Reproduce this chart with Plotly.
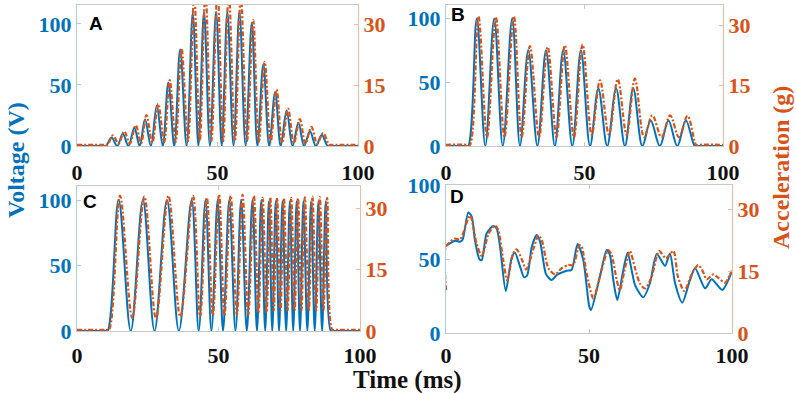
import plotly.graph_objects as go

# ---------------- data ----------------
# Panel A : amplitude-modulated burst
a_blue_peak_t = [12.3, 16.3, 20.4, 24.2, 28.4, 32.5, 36.7, 41.2, 45.2, 49.5, 53.5, 57.8, 62.2, 66.3, 70.5, 74.6, 78.8, 82.9, 87.1]
a_blue_peak_v = [7, 10, 15, 22, 33, 52, 79, 109, 110, 110, 110, 110, 101, 67, 44, 29, 19, 12, 9]
a_blue_trough_t = [10.3, 14.3, 18.3, 22.3, 26.3, 30.5, 34.6, 39.0, 43.2, 47.3, 51.5, 55.7, 60.0, 64.2, 68.4, 72.5, 76.7, 80.8, 85.0, 89.2]
a_blue_trough_v = [0] * 20
a_org_peak_t = [12.8, 16.8, 20.9, 24.7, 28.9, 33.0, 37.2, 41.7, 45.7, 50.0, 54.0, 58.3, 62.7, 66.8, 71.0, 75.1, 79.3, 83.4, 87.6]
a_org_peak_g = [2.6, 3.6, 5.1, 7.6, 10.4, 16.2, 24.0, 37, 38, 38, 38, 37, 31.0, 20.7, 13.9, 9.2, 6.6, 4.7, 3.2]
a_org_trough_t = [10.8, 14.8, 18.8, 22.8, 26.8, 31.0, 35.1, 39.5, 43.7, 47.8, 52.0, 56.2, 60.5, 64.7, 68.9, 73.0, 77.2, 81.3, 85.5, 89.7]
a_org_trough_g = [0.3, 0.6, 0.6, 0.7, 0.8, 0.9, 1.0, 1.2, 1.2, 1.2, 1.2, 1.2, 1.2, 1.0, 0.9, 0.8, 0.7, 0.6, 0.6, 0.3]

# Panel B : stepped amplitudes
b_blue_peak_t = [11.1, 17.4, 23.9, 29.7, 36.1, 42.3, 48.7, 55.0, 61.4, 67.6, 73.9, 80.3, 86.6]
b_blue_peak_v = [100, 100, 100, 75, 75, 75, 75, 45, 45, 45, 20, 20, 20]
b_blue_trough_t = [8.0, 14.2, 20.5, 26.7, 33.0, 39.3, 45.6, 52.0, 58.2, 64.6, 70.9, 77.2, 83.5, 89.8]
b_blue_trough_v = [0] * 14
b_org_peak_t = [11.7, 18.0, 24.5, 30.3, 36.7, 42.9, 49.3, 55.6, 62.0, 68.2, 74.5, 80.9, 87.2]
b_org_peak_g = [32.2, 32.0, 32.2, 24.8, 24.6, 25.0, 25.2, 16.3, 16.6, 16.7, 7.6, 7.6, 7.5]
b_org_trough_t = [8.6, 14.8, 21.1, 27.3, 33.6, 39.9, 46.2, 52.6, 58.8, 65.2, 71.5, 77.8, 84.1, 90.4]
b_org_trough_g = [0.2, 2.2, 2.2, 2.2, 2.2, 2.2, 2.2, 2.8, 2.8, 2.8, 2.2, 2.2, 2.2, 0.2]

# Panel C : chirp
c_blue_peak_t = [14.7, 23.3, 31.8, 40.5, 45.4, 49.7, 53.8, 58.0, 62.0, 65.1, 67.8, 70.2, 72.6, 75.2, 77.6, 80.0, 82.7, 85.3, 87.9]
c_blue_peak_v = [100, 100, 100, 100, 100, 100, 100, 100, 100, 100, 99, 99, 99, 99, 99, 99, 99, 99, 99]
c_blue_trough_t = [10.8, 19.0, 27.4, 36.0, 43.0, 47.5, 51.6, 56.0, 60.0, 63.6, 66.5, 69.0, 71.4, 73.9, 76.4, 78.8, 81.4, 84.0, 86.6, 89.7]
c_blue_trough_v = [0] * 20
c_org_peak_t = [15.2, 23.8, 32.3, 41.0, 45.9, 50.2, 54.3, 58.5, 62.5, 65.6, 68.3, 70.7, 73.1, 75.7, 78.1, 80.5, 83.2, 85.8, 88.4]
c_org_peak_g = [33.0, 32.8, 33.0, 33.0, 32.5, 33.3, 33.0, 33.3, 33.0, 32.5, 32.6, 32.5, 32.4, 32.5, 32.4, 32.6, 32.8, 32.7, 32.5]
c_org_trough_t = [11.3, 19.5, 27.9, 36.5, 43.5, 48.0, 52.1, 56.5, 60.5, 64.1, 67.0, 69.5, 71.9, 74.4, 76.9, 79.3, 81.9, 84.5, 87.1, 90.2]
c_org_trough_g = [0.3, 3.2, 3.0, 3.5, 3.5, 3.8, 3.8, 4.0, 4.0, 4.5, 4.5, 5.0, 5.0, 5.0, 5.0, 5.0, 5.0, 5.0, 5.0, 0.3]

# Panel D : irregular signal
d_blue_t = [0, 3.1, 4.9, 5.8, 7.8, 9.0, 10.1, 11.7, 12.5, 14.2, 16.5, 17.7, 18.9, 20.9, 23.0, 24.1, 25.9, 27.3, 28.4,
            30.0, 31.7, 32.9, 35.0, 36.9, 38.7, 40.4, 42.2, 43.9, 46.0, 48.0, 50.1, 50.7, 53.8, 56.2, 57.3, 58.5, 59.9,
            62.0, 63.5, 64.9, 66.1, 69.0, 71.3, 73.7, 76.6, 78.3, 80.1, 82.6, 85.3, 87.1, 90.6, 92.9, 96.6, 99.9]
d_blue_v = [58.8, 62.4, 61.7, 63, 81.5, 78.6, 63, 49.8, 49.3, 67.3, 72.3, 70.7, 58.3, 28.4, 51.1, 54.3, 44.8, 37.6, 39,
            58.3, 66.2, 61.7, 39.6, 35.8, 39.2, 40.8, 42.1, 42.6, 60.2, 49.3, 17.8, 15.5, 38, 56.1, 52.7, 35.8, 22.3,
            42.6, 54.3, 42.6, 32.4, 24.1, 33.6, 53.4, 45.3, 53.8, 33.6, 20.5, 35.8, 43.7, 30.2, 36.3, 29.1, 41.4]
d_org_t = [0, 0, 3.1, 4.9, 8.4, 10.7, 12.5, 14.9, 17.1, 18.3, 20.0, 21.4, 23.5, 24.7, 26.6, 28.0, 30.8, 32.3, 33.5,
           35.8, 38.1, 40.4, 42.7, 44.5, 46.6, 47.4, 49.2, 51.5, 54.4, 56.7, 57.9, 59.7, 60.8, 62.7, 64.3, 66.1, 67.8,
           69.6, 71.9, 74.5, 76.9, 79.5, 81.1, 83.3, 86.0, 88.2, 89.9, 91.1, 93.5, 95.2, 97.6, 99.9]
d_org_g = [10.4, 21.0, 22.9, 22.7, 28.5, 21.7, 18.6, 24.1, 26.1, 24.9, 17.7, 12.8, 19.3, 20.3, 17.7, 15.4, 20.9, 23.7, 22.5,
           15.7, 14.2, 15.7, 16.5, 16.5, 21.3, 21.0, 14.4, 8.4, 15.3, 20.1, 19.0, 12.8, 10.4, 16.1, 19.9, 15.7, 12.0,
           10.8, 13.6, 19.9, 18.1, 19.9, 13.6, 10.2, 14.4, 16.5, 14.8, 13.0, 14.2, 13.4, 12.2, 15.1]

x_ticks = [0, 50, 100]
v_ticks = [0, 50, 100]
g_ticks = [0, 15, 30]
x_limits = [0, 100]
base_v = 0
base_g = 0.3

# ---------------- helpers ----------------
BLUE = "#0072BD"
ORANGE = "#D95319"
W, H = 796, 393


def burst(trough_t, trough_v, peak_t, peak_v, base):
    t = [x_limits[0], trough_t[0] - 1.0]
    v = [base, base]
    for i in range(len(peak_t)):
        t += [trough_t[i], peak_t[i]]
        v += [trough_v[i], peak_v[i]]
    t += [trough_t[-1], trough_t[-1] + 1.0, x_limits[1]]
    v += [trough_v[-1], base, base]
    return t, v


def dom_x(a, b):
    return [a / W, b / W]


def dom_y(top, bottom):
    return [(H - bottom) / H, (H - top) / H]


panels = [
    # name, x-domain px, y-domain px, vmax, gmax, blue, orange, label position px, x-label standoff
    ("A", (77, 358), (5, 146), 115.5, 34.7,
     burst(a_blue_trough_t, a_blue_trough_v, a_blue_peak_t, a_blue_peak_v, base_v),
     burst(a_org_trough_t, a_org_trough_g, a_org_peak_t, a_org_peak_g, base_g), (96, 24), 7),
    ("B", (446, 723), (5, 146), 110.5, 35.0,
     burst(b_blue_trough_t, b_blue_trough_v, b_blue_peak_t, b_blue_peak_v, base_v),
     burst(b_org_trough_t, b_org_trough_g, b_org_peak_t, b_org_peak_g, base_g), (458, 15), 7),
    ("C", (77, 360), (186, 331), 110.7, 35.4,
     burst(c_blue_trough_t, c_blue_trough_v, c_blue_peak_t, c_blue_peak_v, base_v),
     burst(c_org_trough_t, c_org_trough_g, c_org_peak_t, c_org_peak_g, base_g), (90, 201), 5),
    ("D", (446, 732), (185, 333), 100, 35.9,
     (d_blue_t, d_blue_v), (d_org_t, d_org_g), (457, 196), 3),
]

tick_font = dict(family="Liberation Serif", size=22, weight="bold")

fig = go.Figure()
layout = dict(
    width=W, height=H, margin=dict(l=0, r=0, t=0, b=0, autoexpand=False),
    paper_bgcolor="white", plot_bgcolor="white", showlegend=False,
    annotations=[],
)

for i, (name, xd, yd, vmax, gmax, blue, org, lab, stand) in enumerate(panels):
    k = i + 1
    xa = "x" if k == 1 else f"x{k}"
    ya = f"y{2 * k - 1}" if k > 1 else "y"
    yb = f"y{2 * k}"
    smooth = 1.0 if name != "D" else 0.7
    fig.add_trace(go.Scatter(x=blue[0], y=blue[1], xaxis=xa, yaxis=ya, mode="lines",
                             line=dict(color=BLUE, width=2, shape="spline", smoothing=smooth)))
    fig.add_trace(go.Scatter(x=org[0], y=org[1], xaxis=xa, yaxis=yb, mode="lines",
                             line=dict(color=ORANGE, width=2.2, dash="5px,2px,2px,2px",
                                       shape="spline", smoothing=smooth)))
    xkey = "xaxis" if k == 1 else f"xaxis{k}"
    yakey = "yaxis" if k == 1 else f"yaxis{2 * k - 1}"
    ybkey = f"yaxis{2 * k}"
    layout[xkey] = dict(domain=dom_x(*xd), anchor=ya, range=x_limits, tickvals=x_ticks, automargin=False,
                        showline=True, linecolor="#c8c8c8", linewidth=1, mirror="ticks",
                        ticks="inside", ticklen=4, tickcolor="#c8c8c8", showgrid=False, zeroline=False,
                        ticklabelstandoff=stand,
                        tickfont=dict(tick_font, color="#111111"), fixedrange=True)
    layout[yakey] = dict(domain=dom_y(*yd), anchor=xa, range=[0, vmax], tickvals=v_ticks, automargin=False,
                         showline=True, linecolor="#a9cde9", linewidth=1,
                         ticks="inside", ticklen=4, tickcolor="#a9cde9", showgrid=False, zeroline=False,
                         tickfont=dict(tick_font, color=BLUE))
    layout[ybkey] = dict(overlaying=ya, anchor=xa, side="right", range=[0, gmax], tickvals=g_ticks,
                         automargin=False,
                         showline=True, linecolor="#f2b9a0", linewidth=1,
                         ticks="inside", ticklen=4, tickcolor="#f2b9a0", showgrid=False, zeroline=False,
                         tickfont=dict(tick_font, color=ORANGE))
    layout["annotations"].append(dict(text=name, x=lab[0] / W, y=(H - lab[1]) / H, xref="paper", yref="paper",
                                      xanchor="center", yanchor="middle", showarrow=False,
                                      font=dict(family="Liberation Sans", size=19, weight="bold", color="black")))

title_font = dict(family="Liberation Serif", size=24, weight="bold")
layout["annotations"] += [
    dict(text="Voltage (V)", x=16 / W, y=(H - 160) / H, xref="paper", yref="paper", textangle=-90,
         xanchor="center", yanchor="middle", showarrow=False, font=dict(title_font, color=BLUE)),
    dict(text="Acceleration (g)", x=781 / W, y=(H - 168) / H, xref="paper", yref="paper", textangle=-90,
         xanchor="center", yanchor="middle", showarrow=False, font=dict(title_font, color=ORANGE)),
    dict(text="Time (ms)", x=407 / W, y=(H - 380) / H, xref="paper", yref="paper",
         xanchor="center", yanchor="middle", showarrow=False, font=dict(title_font, size=25, color="#111111")),
]

fig.update_layout(**layout)
fig.write_html("out.html", config={"displayModeBar": False},
               post_script="document.body.style.margin='0px';document.body.style.overflow='hidden';")
